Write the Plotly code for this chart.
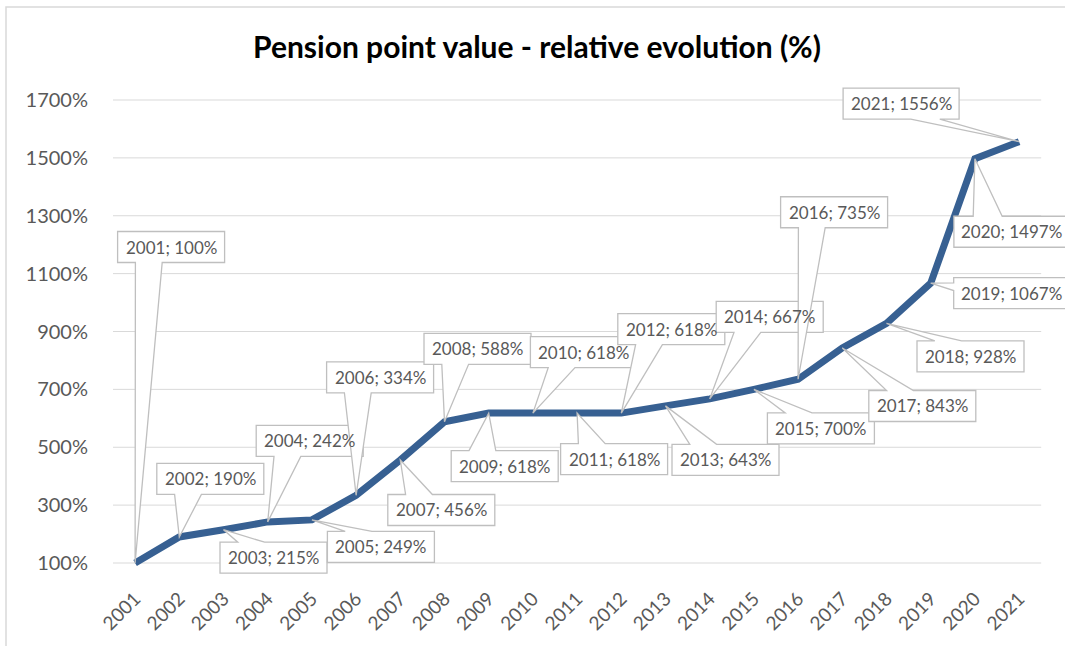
import plotly.graph_objects as go

# ---- data ----
years = list(range(2001, 2022))
values = [100, 190, 215, 242, 249, 334, 456, 588, 618, 618, 618, 618,
          643, 667, 700, 735, 843, 928, 1067, 1497, 1556]
y_ticks = [100, 300, 500, 700, 900, 1100, 1300, 1500, 1700]
y_tick_labels = [f"{v}%" for v in y_ticks]
title_text = "Pension point value - relative evolution (%)"

# ---- label box offsets (pixels, box centre relative to its point; screen y down) ----
label_dx = [36, 31, 50, 42, 69, 24, 41, 33, 16, 51, 37, 50, 60, 60, 67, 36, 80, 84, 81, 37, -118]
label_dy = [-316, -58, 28, -81, 27, -118, 50, -73, 53, -61, 46, -84, 54, -82, 39, -167, 58, 33, 10, 73, -38]

# ---- layout geometry ----
W, H = 1065, 646
ML, MR, MT, MB = 113, 0, 10, 10
AXIS_PX = 563            # pixel row of the category axis (value 100%)
px_per_year = 44.2
first_offset = 22.1
px_per_unit = 463 / 1600.0
plot_w = W - ML - MR
plot_h = H - MT - MB
plot_bottom = H - MB
x_range = [years[0] - first_offset / px_per_year,
           years[0] + (plot_w - first_offset) / px_per_year]
y_range = [y_ticks[0] - (plot_bottom - AXIS_PX) / px_per_unit,
           y_ticks[0] + (AXIS_PX - MT) / px_per_unit]
x_axis_pos = (plot_bottom - AXIS_PX) / plot_h

FONT = "Lato"
GREY_TXT = "#595959"
GRID = "#D9D9D9"
BOX_LINE = "#BFBFBF"
LINE_COL = "#376092"

fig = go.Figure()
fig.add_trace(go.Scatter(x=years, y=values, mode="lines",
                         line=dict(color=LINE_COL, width=7),
                         hoverinfo="skip", showlegend=False))

shapes = []
# gridlines (category span only)
for v in y_ticks:
    shapes.append(dict(type="line", xref="x", yref="y",
                       x0=years[0] - 0.5, x1=years[-1] + 0.5, y0=v, y1=v,
                       line=dict(color=GRID, width=1), layer="below"))


def callout_path(dx, dy, w, h):
    l, r = dx - w / 2, dx + w / 2
    t, b = dy - h / 2, dy + h / 2
    tx, ty = -dx, -dy
    horiz = abs(tx * h / w) > abs(ty)
    if horiz:
        if ty > 0:
            y1, y2 = t + h * 7 / 12, t + h * 10 / 12
        else:
            y1, y2 = t + h * 2 / 12, t + h * 5 / 12
        if tx < 0:
            pts = [(l, t), (r, t), (r, b), (l, b), (l, y2), (0, 0), (l, y1)]
        else:
            pts = [(l, t), (r, t), (r, y1), (0, 0), (r, y2), (r, b), (l, b)]
    else:
        if tx > 0:
            x1, x2 = l + w * 7 / 12, l + w * 10 / 12
        else:
            x1, x2 = l + w * 2 / 12, l + w * 5 / 12
        if ty < 0:
            pts = [(l, t), (x1, t), (0, 0), (x2, t), (r, t), (r, b), (l, b)]
        else:
            pts = [(l, t), (r, t), (r, b), (x2, b), (0, 0), (x1, b), (l, b)]
    return "M " + " L ".join(f"{x:.1f},{-y:.1f}" for x, y in pts) + " Z"


annotations = []
for yr, v, dx, dy in zip(years, values, label_dx, label_dy):
    txt = f"{yr}; {v}%"
    w = 107 if len(txt) <= 10 else 116
    h = 31
    shapes.append(dict(type="path", xref="x", yref="y",
                       xsizemode="pixel", ysizemode="pixel",
                       xanchor=yr, yanchor=v,
                       path=callout_path(dx, dy, w, h),
                       fillcolor="white",
                       line=dict(color=BOX_LINE, width=1.3), layer="above"))
    annotations.append(dict(x=yr, y=v, xref="x", yref="y", text=txt,
                            showarrow=False, xshift=dx, yshift=-dy,
                            xanchor="center", yanchor="middle",
                            font=dict(family=FONT, size=17, color=GREY_TXT)))

# chart area border
shapes.append(dict(type="rect", xref="paper", yref="paper",
                   x0=(6 - ML) / plot_w, x1=(W + 5 - ML) / plot_w,
                   y0=(plot_bottom - (H + 5)) / plot_h, y1=(plot_bottom - 7) / plot_h,
                   line=dict(color=GRID, width=1.5), fillcolor="rgba(0,0,0,0)",
                   layer="below"))

fig.update_layout(
    width=W, height=H,
    margin=dict(l=ML, r=MR, t=MT, b=MB),
    paper_bgcolor="white", plot_bgcolor="white",
    title=dict(text=f"<b>{title_text}</b>", xref="container", yref="container",
               x=537 / W, y=1 - 47 / H, xanchor="center", yanchor="middle",
               font=dict(family=FONT, size=30, color="black")),
    xaxis=dict(range=x_range, tickmode="array", tickvals=years,
               ticktext=[str(y) for y in years], tickangle=-45,
               anchor="free", position=x_axis_pos,
               showgrid=False, zeroline=False, showline=False,
               ticks="", ticklabelstandoff=20,
               tickfont=dict(family=FONT, size=19, color=GREY_TXT)),
    yaxis=dict(range=y_range, tickmode="array", tickvals=y_ticks,
               ticktext=y_tick_labels, showgrid=False, zeroline=False,
               showline=False, ticks="", ticklabelstandoff=24,
               tickfont=dict(family=FONT, size=20, color=GREY_TXT)),
    shapes=shapes,
    annotations=annotations,
)

fig.write_html("out.html", config={"displayModeBar": False},
               post_script="document.body.style.margin='0px';"
                           "document.body.style.overflow='hidden';")
